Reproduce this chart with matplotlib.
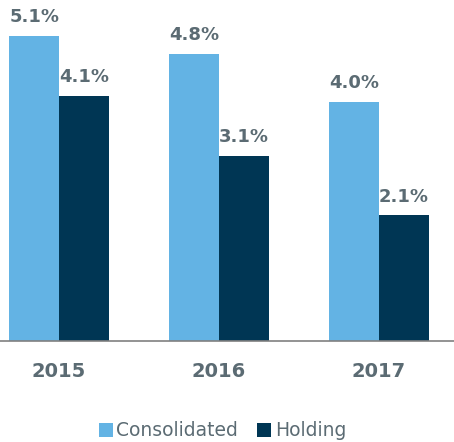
import matplotlib.pyplot as plt
import numpy as np

years = ["2015", "2016", "2017"]
consolidated = [5.1, 4.8, 4.0]
holding = [4.1, 3.1, 2.1]

light_blue = "#63b3e4"
navy = "#003654"
grey_text = "#5b6b73"

fig = plt.figure(figsize=(4.54, 4.42), dpi=100)
ax = fig.add_axes([0, 101 / 442, 1, 341 / 442])

x = np.arange(len(years))
w = 0.31
b1 = ax.bar(x - w / 2, consolidated, width=w, color=light_blue, label="Consolidated")
b2 = ax.bar(x + w / 2, holding, width=w, color=navy, label="Holding")

for bars, vals in ((b1, consolidated), (b2, holding)):
    for bar, v in zip(bars, vals):
        ax.annotate(f"{v:.1f}%", (bar.get_x() + bar.get_width() / 2, v),
                    xytext=(0, 7), textcoords="offset points",
                    ha="center", va="bottom", fontsize=13, fontweight="bold",
                    color=grey_text)

ax.set_xlim(-0.369, 2.469)
ax.set_ylim(0, 5.70)
ax.set_xticks(x)
ax.set_xticklabels(years, fontsize=14, fontweight="bold", color=grey_text)
ax.tick_params(axis="x", length=0, pad=15)
ax.set_yticks([])
for s in ("top", "right", "left"):
    ax.spines[s].set_visible(False)
ax.spines["bottom"].set_color("#808080")
ax.spines["bottom"].set_linewidth(1.2)

fig.legend(handles=[b1, b2], labels=["Consolidated", "Holding"],
           loc="center", bbox_to_anchor=(0.49, 11 / 442), ncol=2, frameon=False,
           fontsize=13.5, handlelength=0.75, handleheight=0.75, handletextpad=0.2,
           columnspacing=1.0, labelcolor=grey_text)

fig.savefig("out.png", dpi=100)
